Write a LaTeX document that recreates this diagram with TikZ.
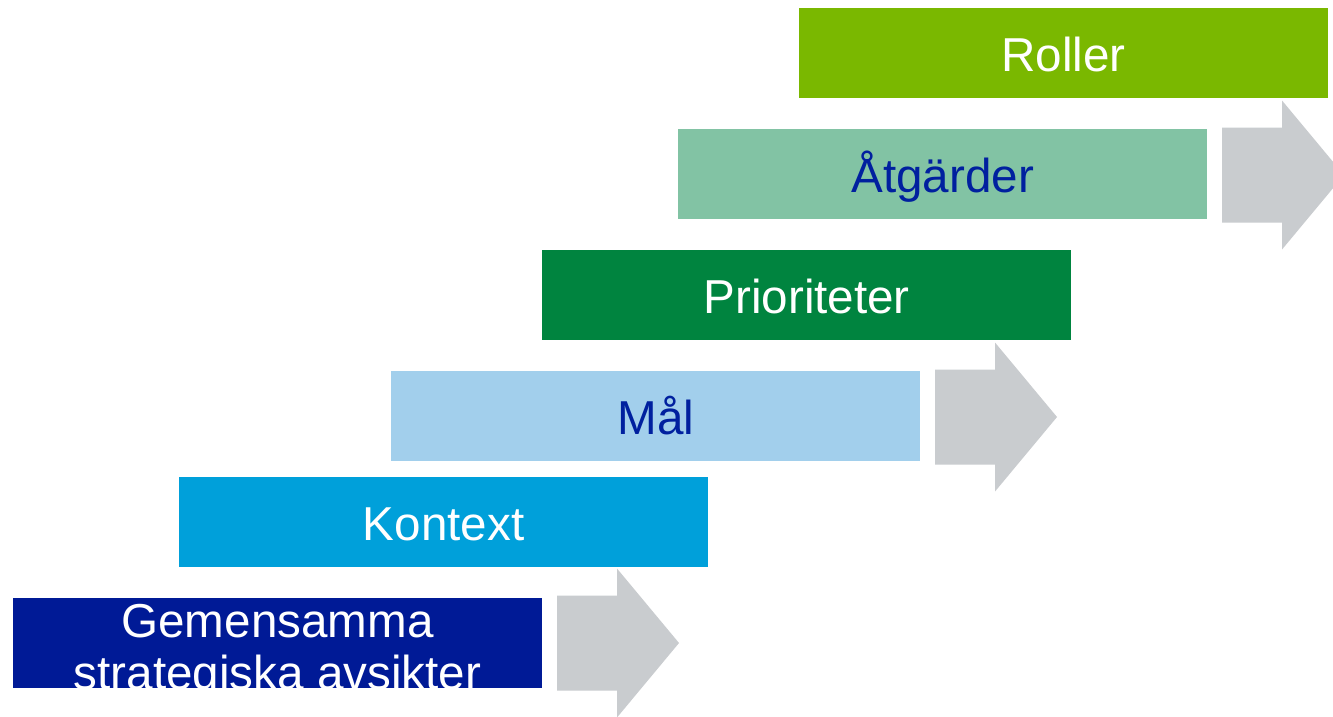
\documentclass[tikz,border=0pt]{standalone}
\usepackage{fontspec}
\setmainfont{Liberation Sans}
\definecolor{cRoller}{HTML}{7AB800}
\definecolor{cAtg}{HTML}{82C3A4}
\definecolor{cPrio}{HTML}{00843F}
\definecolor{cMal}{HTML}{A2CFEC}
\definecolor{cKontext}{HTML}{00A0DA}
\definecolor{cGem}{HTML}{001A96}
\definecolor{cDark}{HTML}{00209F}
\definecolor{cArrow}{HTML}{C9CCCF}
\begin{document}
\begin{tikzpicture}[x=1pt,y=-1pt,
  box/.style={draw=none, inner sep=0pt, anchor=north west,
    minimum width=529pt, minimum height=90pt,
    text height=37pt, text depth=0pt,
    font=\fontsize{47.6}{52}\selectfont},
  lbl/.style={inner sep=0pt, anchor=base, text=white,
    font=\fontsize{47.6}{52}\selectfont},
  grayarrow/.pic={\fill[cArrow] (0,-47.5) -- (60,-47.5) -- (60,-74.5) -- (122,0)
      -- (60,74.5) -- (60,47.5) -- (0,47.5) -- cycle;}]
\useasboundingbox (0,0) rectangle (1333,716);
\clip (0,0) rectangle (1333,716);
\fill[white] (0,0) rectangle (1333,716);

\node[box, fill=cRoller, text=white] (roller) at (799,8) {Roller};
\node[box, fill=cAtg, text=cDark] (atg) at (678,129) {Åtgärder};
\node[box, fill=cPrio, text=white] (prio) at (542,250) {Prioriteter};
\node[box, fill=cMal, text=cDark] (mal) at (391,371) {Mål};
\node[box, fill=cKontext, text=white] (kontext) at (179,477) {Kontext};
\node[box, fill=cGem] (gem) at (13,598) {};
\begin{scope}
  \clip (gem.north west) rectangle (gem.south east);
  \node[lbl] (gem1) at (277.5,637) {Gemensamma};
  \node[lbl] (gem2) at (277.5,689) {strategiska avsikter};
\end{scope}

\pic at (1222,175) {grayarrow};
\pic at (935,417) {grayarrow};
\pic at (557,643) {grayarrow};
\end{tikzpicture}
\end{document}
